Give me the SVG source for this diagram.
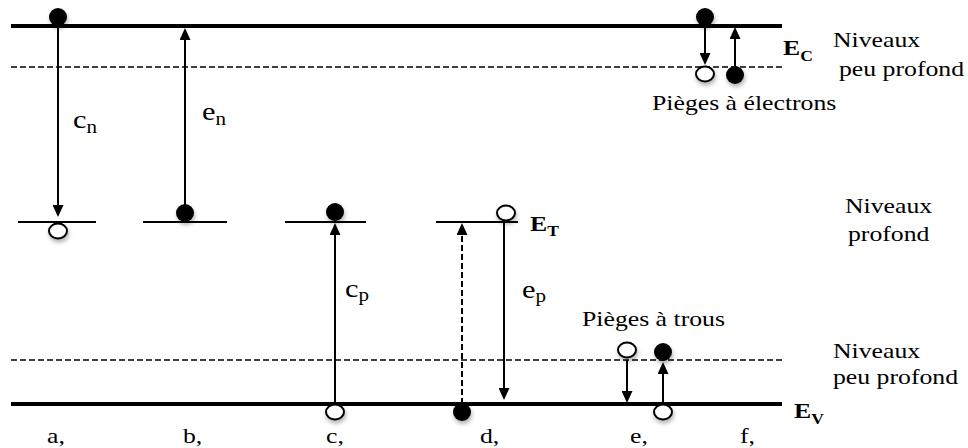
<svg xmlns="http://www.w3.org/2000/svg" width="968" height="448" viewBox="0 0 968 448">
<style>
text{font-family:'Liberation Serif','Times New Roman',Times,serif;font-size:22px;fill:#000}
.b{font-weight:bold}
.lab{font-size:26px}
.sub{font-size:18px}
.band{stroke:#000;stroke-width:4;fill:none}
.dash{stroke:#000;stroke-width:1.6;stroke-dasharray:6 3;fill:none}
.lvl{stroke:#000;stroke-width:2;fill:none}
.arr{stroke:#000;stroke-width:2;fill:none;marker-end:url(#ah)}
.arrd{stroke:#000;stroke-width:2;stroke-dasharray:6 3;fill:none;marker-end:url(#ah)}
.el{fill:#000;filter:url(#sh)}
.ho{fill:#fff;stroke:#000;stroke-width:2;filter:url(#sh)}
</style>
<defs>
<marker id="ah" viewBox="0 0 12 11" refX="0" refY="5.5" markerWidth="12" markerHeight="11" markerUnits="userSpaceOnUse" orient="auto">
<path d="M0,0 L12,5.5 L0,11 z" fill="#000"/>
</marker>
<filter id="sh" x="-50%" y="-50%" width="200%" height="220%">
<feDropShadow dx="1" dy="3" stdDeviation="2" flood-color="#000" flood-opacity="0.3"/>
</filter>
</defs>
<rect width="968" height="448" fill="#fff"/>

<g id="levels">
<line class="band" x1="11" y1="26" x2="782" y2="26"/>
<line class="dash" x1="11" y1="67" x2="782" y2="67"/>
<line class="dash" x1="11" y1="360" x2="782" y2="360"/>
<line class="band" x1="11" y1="404" x2="782" y2="404"/>
<line class="lvl" x1="18" y1="222" x2="96" y2="222"/>
<line class="lvl" x1="143" y1="222" x2="227" y2="222"/>
<line class="lvl" x1="285" y1="222" x2="366" y2="222"/>
<line class="lvl" x1="436" y1="222" x2="518" y2="222"/>
</g>

<g id="connectors">
<path class="arr" d="M58 26 L58 205"/>
<path class="arr" d="M185 213 L185 40"/>
<path class="arr" d="M335 404 L335 235"/>
<path class="arrd" d="M462 404 L462 235"/>
<path class="arr" d="M504 222 L504 388"/>
<path class="arr" d="M705 26 L705 53"/>
<path class="arr" d="M735 74 L735 39"/>
<path class="arr" d="M627 360 L627 391"/>
<path class="arr" d="M663 412 L663 374"/>
</g>

<g id="case-a">
<ellipse class="el" cx="58" cy="17" rx="9" ry="9"/>
<ellipse class="ho" cx="58" cy="231" rx="9" ry="7.5"/>
<text transform="translate(47,443) scale(1.17,1)">a,</text>
</g>
<g id="case-b">
<ellipse class="el" cx="185" cy="213" rx="9" ry="9"/>
<text transform="translate(183,443) scale(1.17,1)">b,</text>
</g>
<g id="case-c">
<ellipse class="el" cx="335" cy="212" rx="9" ry="9"/>
<ellipse class="ho" cx="335" cy="412" rx="9" ry="7.5"/>
<text transform="translate(326,443) scale(1.17,1)">c,</text>
</g>
<g id="case-d">
<ellipse class="ho" cx="506" cy="213" rx="9" ry="7.5"/>
<ellipse class="el" cx="462" cy="412" rx="9" ry="9"/>
<text transform="translate(480,443) scale(1.17,1)">d,</text>
</g>
<g id="case-e">
<ellipse class="ho" cx="627" cy="350" rx="9" ry="7.5"/>
<text transform="translate(630,443) scale(1.17,1)">e,</text>
</g>
<g id="case-f">
<ellipse class="el" cx="663" cy="352" rx="9" ry="9"/>
<ellipse class="ho" cx="663" cy="412" rx="9" ry="7.5"/>
<text transform="translate(740,443) scale(1.17,1)">f,</text>
</g>
<g id="electron-traps">
<ellipse class="el" cx="705" cy="17" rx="9" ry="9"/>
<ellipse class="ho" cx="705" cy="74" rx="9" ry="7.5"/>
<ellipse class="el" cx="735" cy="75" rx="9" ry="9"/>
<text transform="translate(652,110) scale(1.17,1)">Pièges à électrons</text>
</g>
<g id="hole-traps-label">
<text transform="translate(582,326) scale(1.17,1)">Pièges à trous</text>
</g>

<g id="rate-labels">
<text class="lab" transform="translate(73,128) scale(1.17,1)">c<tspan class="sub" dy="5">n</tspan></text>
<text class="lab" transform="translate(202,120) scale(1.17,1)">e<tspan class="sub" dy="5">n</tspan></text>
<text class="lab" transform="translate(345,297) scale(1.17,1)">c<tspan class="sub" dy="4">p</tspan></text>
<text class="lab" transform="translate(522,298) scale(1.17,1)">e<tspan class="sub" dy="4">p</tspan></text>
</g>

<g id="energy-labels">
<text class="b" transform="translate(783,55) scale(1.17,1)">E<tspan style="font-size:15px" dy="6">C</tspan></text>
<text class="b" transform="translate(530,231) scale(1.17,1)">E<tspan style="font-size:15px" dy="5">T</tspan></text>
<text class="b" transform="translate(794,418) scale(1.17,1)">E<tspan style="font-size:15px" dy="6">V</tspan></text>
</g>

<g id="region-labels">
<text transform="translate(833,47) scale(1.17,1)">Niveaux</text>
<text transform="translate(839,76) scale(1.17,1)">peu profond</text>
<text transform="translate(845,213) scale(1.17,1)">Niveaux</text>
<text transform="translate(848,241) scale(1.17,1)">profond</text>
<text transform="translate(833,358) scale(1.17,1)">Niveaux</text>
<text transform="translate(833,384) scale(1.17,1)">peu profond</text>
</g>
</svg>
